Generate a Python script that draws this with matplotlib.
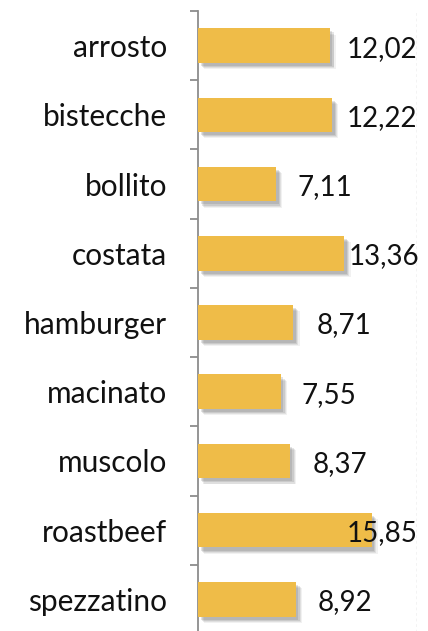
import matplotlib
matplotlib.use("Agg")
import matplotlib.pyplot as plt
import matplotlib.patheffects as pe
from matplotlib.transforms import offset_copy

categories = ["arrosto", "bistecche", "bollito", "costata", "hamburger",
              "macinato", "muscolo", "roastbeef", "spezzatino"]
values = [12.02, 12.22, 7.11, 13.36, 8.71, 7.55, 8.37, 15.85, 8.92]
value_labels = ["12,02", "12,22", "7,11", "13,36", "8,71", "7,55", "8,37", "15,85", "8,92"]

# label horizontal offsets (pixels from bar end), styling only
label_dx = [17, 15, 22, 4, 23, 21, 23, -25, 22]

plt.rcParams['font.family'] = ['Lato', 'DejaVu Sans']

W, H, DPI = 428, 631, 100
fig = plt.figure(figsize=(W / DPI, H / DPI), dpi=DPI)
ax_left, ax_right = 198, 417
ax_top, ax_bot = 11, 634
ax = fig.add_axes([ax_left / W, 1 - ax_bot / H, (ax_right - ax_left) / W, (ax_bot - ax_top) / H])

ypos = list(range(len(categories)))
bars = ax.barh(ypos, values, height=0.5, color="#EFBC48", zorder=3)
shadow = []
for (ox, oy, a) in [(4.5, -4.5, 0.07), (3.5, -3.8, 0.1), (2.8, -3.0, 0.13), (2.0, -2.2, 0.15)]:
    shadow.append(pe.SimplePatchShadow(offset=(ox, oy), shadow_rgbFace="#444444", alpha=a))
for b in bars:
    b.set_path_effects(shadow + [pe.Normal()])

ax.set_xlim(0, 20)
ax.set_ylim(len(categories) - 0.5, -0.5)

# right dashed boundary
ax.axvline(20, color="#C4C4C4", linestyle=(0, (2, 2)), linewidth=1.0, zorder=1)

for s in ["top", "right", "bottom"]:
    ax.spines[s].set_visible(False)
ax.spines["left"].set_color("#8C8C8C")
ax.spines["left"].set_linewidth(1.3)

ax.set_xticks([])
ax.set_yticks(ypos)
ax.set_yticklabels(categories, fontsize=21.5, color="#111111")
ax.tick_params(axis="y", which="major", length=0, pad=22)
ax.set_yticks([i - 0.5 for i in range(len(categories) + 1)], minor=True)
ax.tick_params(axis="y", which="minor", length=6, width=1.3, color="#8C8C8C")

for y, v, lab, dx in zip(ypos, values, value_labels, label_dx):
    tr = offset_copy(ax.transData, fig=fig, x=dx * 72 / DPI, y=-3 * 72 / DPI, units="points")
    ax.text(v, y, lab, transform=tr, ha="left", va="center", fontsize=20, color="#111111", zorder=5)

fig.savefig("out.png", dpi=DPI)
